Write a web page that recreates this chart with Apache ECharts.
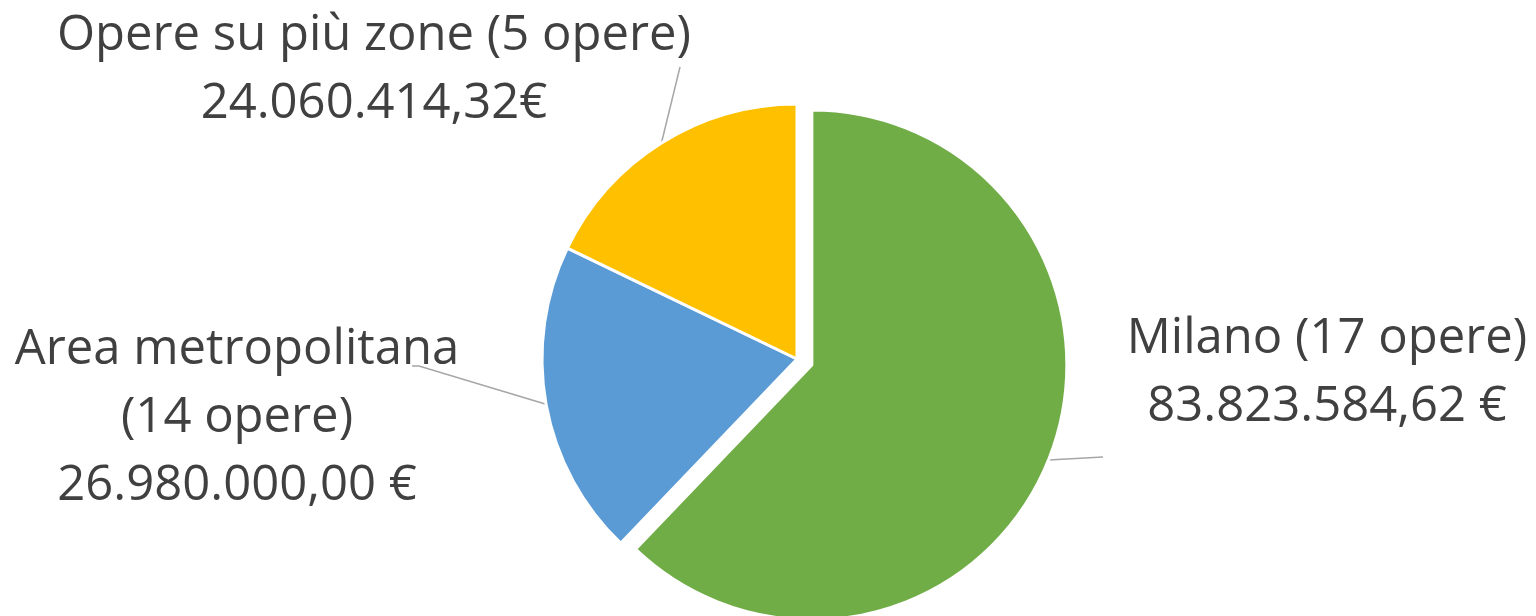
<!DOCTYPE html>
<html>
<head>
<meta charset="utf-8">
<script src="https://cdn.jsdelivr.net/npm/echarts@6/dist/echarts.min.js"></script>
<style>
  html, body { margin: 0; padding: 0; background: #fff; }
  #chart { width: 1536px; height: 616px; }
</style>
</head>
<body>
<div id="chart"></div>
<script>
// dati
const zone = ["Milano", "Area metropolitana", "Opere su più zone"];
const numOpere = [17, 14, 5];
const importi = [83823584.62, 26980000.0, 24060414.32];
const etichette = [
  "Milano (17 opere)\n83.823.584,62 €",
  "Area metropolitana\n(14 opere)\n26.980.000,00 €",
  "Opere su più zone (5 opere)\n24.060.414,32€",
];
const colori = ["#70AD47", "#5B9BD5", "#FFC000"];
const esploso = 0; // fetta staccata (Milano)

// posizione etichette (centro del blocco) e punti finali della linea guida
const posEtichette = [
  { x: 1327, y: 373, lineEnd: [[1103, 457]] },
  { x: 237, y: 418, lineEnd: [[419, 366], [412, 366]] },
  { x: 374, y: 70, lineEnd: [[680, 67]] },
];

const centro = [797, 359];
const raggio = 255;
const distacco = 16;

// spostamento della fetta staccata lungo la sua bisettrice
const totale = importi.reduce((a, b) => a + b, 0);
let prima = 0;
for (let i = 0; i < esploso; i++) prima += importi[i];
const angMedio = ((prima + importi[esploso] / 2) / totale) * 2 * Math.PI;
const offX = distacco * Math.sin(angMedio);
const offY = -distacco * Math.cos(angMedio);

const trasparente = "rgba(0,0,0,0)";

const chart = echarts.init(document.getElementById("chart"));

const option = {
  animation: false,
  series: [
    {
      // fette non staccate + tutte le etichette
      type: "pie",
      center: centro,
      radius: raggio,
      startAngle: 90,
      clockwise: true,
      itemStyle: { borderColor: "#fff", borderWidth: 3 },
      label: {
        show: true,
        color: "#404040",
        fontFamily: "Open Sans",
        fontSize: 49,
        lineHeight: 68,
        align: "center",
        width: 900,
        overflow: "none",
        formatter: (p) => etichette[p.dataIndex],
      },
      labelLine: {
        show: true,
        length: 10,
        length2: 10,
        lineStyle: { color: "#A6A6A6", width: 1.5 },
      },
      labelLayout: function (params) {
        const i = params.dataIndex;
        const pos = posEtichette[i];
        let start = params.labelLinePoints ? params.labelLinePoints[0] : centro;
        if (i === esploso) start = [start[0] + offX, start[1] + offY];
        return {
          x: pos.x,
          y: pos.y,
          align: "center",
          verticalAlign: "middle",
          labelLinePoints: [start].concat(pos.lineEnd),
        };
      },
      data: zone.map((nome, i) => ({
        name: nome,
        value: importi[i],
        itemStyle:
          i === esploso
            ? { color: trasparente, borderWidth: 0 }
            : { color: colori[i] },
      })),
    },
    {
      // fetta staccata
      type: "pie",
      center: [centro[0] + offX, centro[1] + offY],
      radius: raggio,
      startAngle: 90,
      clockwise: true,
      silent: true,
      itemStyle: { borderColor: "#fff", borderWidth: 3 },
      label: { show: false },
      labelLine: { show: false },
      data: zone.map((nome, i) => ({
        name: nome,
        value: importi[i],
        itemStyle:
          i === esploso
            ? { color: colori[i] }
            : { color: trasparente, borderWidth: 0 },
      })),
    },
  ],
};

chart.setOption(option);
</script>
</body>
</html>
